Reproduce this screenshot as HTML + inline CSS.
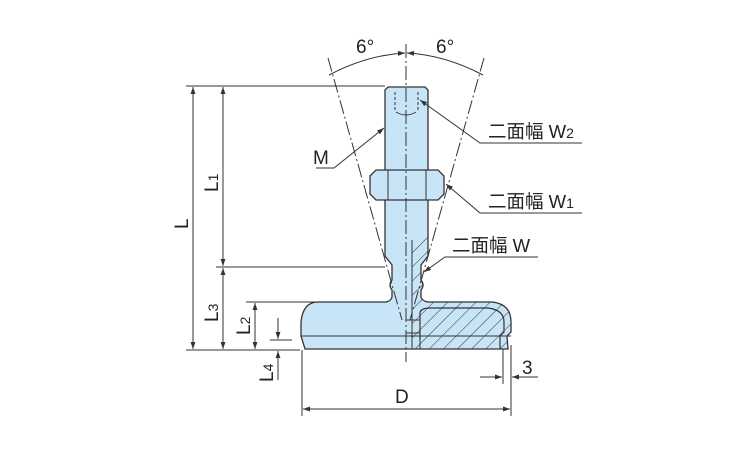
<!DOCTYPE html>
<html><head><meta charset="utf-8"><style>
html,body{margin:0;padding:0;background:#fff;width:750px;height:450px;overflow:hidden}
text{font-family:"Liberation Sans","Noto Sans CJK JP",sans-serif;fill:#222}
</style></head><body>
<svg width="750" height="450" viewBox="0 0 750 450" xmlns="http://www.w3.org/2000/svg">
<defs>
<marker id="a" viewBox="0 0 10 10" refX="10" refY="5" markerWidth="9" markerHeight="7" orient="auto-start-reverse" markerUnits="userSpaceOnUse"><path d="M0,1.5 L10,5 L0,8.5 Z" fill="#333"/></marker>
<pattern id="h" width="10" height="10" patternUnits="userSpaceOnUse" patternTransform="rotate(45)"><line x1="0" y1="0" x2="0" y2="10" stroke="#333" stroke-width="1"/></pattern>
</defs>
<g stroke="#333" stroke-width="1" fill="none">
<line x1="186" y1="86" x2="385" y2="86"/>
<line x1="216" y1="267" x2="385" y2="267"/>
<line x1="246" y1="302" x2="318" y2="302"/>
<line x1="186" y1="350" x2="300" y2="350"/>
<line x1="270" y1="340" x2="292" y2="340"/>
<line x1="193" y1="87" x2="193" y2="349" marker-start="url(#a)" marker-end="url(#a)"/>
<line x1="223" y1="87" x2="223" y2="266" marker-start="url(#a)" marker-end="url(#a)"/>
<line x1="223" y1="268" x2="223" y2="349" marker-start="url(#a)" marker-end="url(#a)"/>
<line x1="255" y1="303" x2="255" y2="349" marker-start="url(#a)" marker-end="url(#a)"/>
<line x1="278" y1="318" x2="278" y2="339" marker-end="url(#a)"/>
<line x1="278" y1="380" x2="278" y2="351" marker-end="url(#a)"/>
<line x1="302" y1="350" x2="302" y2="416"/>
<line x1="511" y1="345" x2="511" y2="416"/>
<line x1="503" y1="345" x2="503" y2="384"/>
<line x1="303" y1="409" x2="510" y2="409" marker-start="url(#a)" marker-end="url(#a)"/>
<line x1="480" y1="377" x2="502" y2="377" marker-end="url(#a)"/>
<line x1="538" y1="377" x2="512" y2="377" marker-end="url(#a)"/>
</g>
<g stroke="#333" stroke-width="1.3" fill="#c8e5f7">
<path d="M318,302 L386,302 Q391,301 392,297 L392,290 Q388,285 392,280 L392,265 L385,256 L385,90 L388,87 L425,87 L428,90 L428,256 L421,265 L421,280 Q425,285 421,290 L421,297 Q422,301 428,302 L492,302 Q511,304 511,322 L511,332 L507,336 L508,349 L305,349 L301,336 L301,322 Q303,302 318,302 Z"/>
<path d="M376,170 L438,170 L444,176 L444,194 L438,200 L376,200 L370,194 L370,176 Z"/>
</g>
<path d="M408,302 L428,302 Q422,301 421,297 L421,290 Q425,285 421,280 L421,265 L428,256 L428,232 L412,242 L412,349 L508,349 L507,336 L511,332 L511,322 Q511,304 492,302 Z" fill="url(#h)" stroke="none"/>
<path d="M420,340 L420,312 Q422,308 430,308 L488,308 Q504,310 504,322 L504,332 L500,336 L500,349" fill="none" stroke="#333" stroke-width="1.2"/>
<g stroke="#333" stroke-width="1" fill="none">
<line x1="388" y1="170" x2="388" y2="200"/><line x1="426" y1="170" x2="426" y2="200"/>
<line x1="301" y1="336" x2="511" y2="336"/>
<line x1="412" y1="240" x2="412" y2="349"/>
<line x1="420" y1="320" x2="420" y2="349"/>
<line x1="406" y1="320" x2="420" y2="320"/><line x1="406" y1="333" x2="420" y2="333"/>
<line x1="395" y1="92" x2="395" y2="110" stroke-dasharray="3,2"/><line x1="418" y1="92" x2="418" y2="110" stroke-dasharray="3,2"/>
<path d="M396,112 Q406,118 416,112"/>
<line x1="406" y1="44" x2="406" y2="362" stroke-dasharray="14,3,2,3"/>
<line x1="328" y1="58" x2="402" y2="320" stroke-dasharray="14,3,2,3"/>
<line x1="484" y1="58" x2="410" y2="320" stroke-dasharray="14,3,2,3"/>
<path d="M329,75 Q367,55 405,53" marker-end="url(#a)"/>
<path d="M483,75 Q445,55 407,53" marker-end="url(#a)"/>
<polyline points="316,168 334,168 384,128" marker-end="url(#a)"/>
<polyline points="582,143 480,143 420,100" marker-end="url(#a)"/>
<polyline points="582,213 480,213 446,184" marker-end="url(#a)"/>
<polyline points="538,257 445,257 424,272" marker-end="url(#a)"/>
</g>
<text x="356" y="53" font-size="19">6°</text>
<text x="436" y="53" font-size="19">6°</text>
<text x="313" y="164" font-size="19">M</text>
<text x="488" y="138" font-size="18.5">二面幅 W<tspan font-size="14">2</tspan></text>
<text x="488" y="208" font-size="18.5">二面幅 W<tspan font-size="14">1</tspan></text>
<text x="452" y="252" font-size="18.5">二面幅 W</text>
<text x="395" y="403" font-size="19">D</text>
<text x="522" y="374" font-size="19">3</text>
<text transform="translate(188,229) rotate(-90)" font-size="19">L</text>
<text transform="translate(218,192) rotate(-90)" font-size="19">L<tspan font-size="14">1</tspan></text>
<text transform="translate(218,322) rotate(-90)" font-size="19">L<tspan font-size="14">3</tspan></text>
<text transform="translate(250,335) rotate(-90)" font-size="19">L<tspan font-size="14">2</tspan></text>
<text transform="translate(273,382) rotate(-90)" font-size="19">L<tspan font-size="14">4</tspan></text>
</svg>
</body></html>
